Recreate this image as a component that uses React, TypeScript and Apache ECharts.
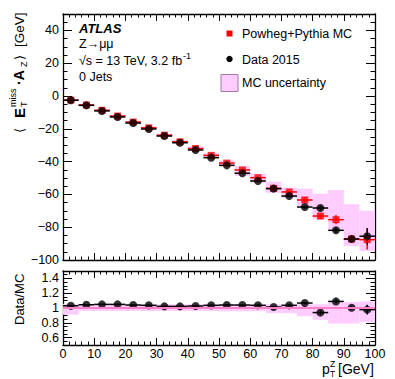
import React, { useEffect, useRef } from "react";
import * as echarts from "echarts";

// ---- data ----
const binCenters = [2.5, 7.5, 12.5, 17.5, 22.5, 27.5, 32.5, 37.5, 42.5, 47.5, 52.5, 57.5, 62.5, 67.5, 72.5, 77.5, 82.5, 87.5, 92.5, 97.5];
const binHalfWidth = 2.5;
const dataVals = [-2.6, -5.7, -9.1, -12.8, -16.5, -20.1, -24.4, -28.5, -32.9, -37.6, -42.3, -47.1, -51.8, -56.5, -61.0, -67.7, -68.3, -81.9, -87.2, -85.5];
const dataErr = [0.3, 0.3, 0.3, 0.3, 0.3, 0.3, 0.3, 0.4, 0.4, 0.4, 0.5, 0.5, 0.6, 0.7, 0.8, 1.0, 1.4, 1.5, 2.0, 5.0];
const mcVals = [-2.5, -5.5, -8.7, -12.2, -15.9, -19.4, -23.9, -27.9, -32.0, -36.2, -40.9, -45.1, -49.8, -56.3, -58.5, -63.4, -73.2, -75.4, -87.2, -87.6];
const mcErr = [0.2, 0.2, 0.2, 0.2, 0.2, 0.2, 0.3, 0.3, 0.3, 0.4, 0.4, 0.5, 0.6, 0.7, 0.9, 1.2, 1.6, 2.8, 2.0, 6.0];
const bandLo = [-2.7, -5.8, -9.1, -12.7, -16.5, -20.2, -24.9, -29.0, -33.3, -37.7, -42.5, -48.8, -52.9, -59.0, -62.0, -67.0, -75.2, -81.3, -91.5, -94.5];
const bandHi = [-2.3, -5.2, -8.3, -11.7, -15.3, -18.6, -22.9, -26.8, -30.7, -34.8, -39.3, -42.7, -47.4, -52.3, -55.9, -56.5, -59.6, -57.3, -66.0, -70.0];
const ratioVals = [1.03, 1.044, 1.049, 1.049, 1.04, 1.036, 1.022, 1.022, 1.027, 1.036, 1.04, 1.04, 1.036, 1.013, 1.036, 1.067, 0.938, 1.089, 1.004, 0.978];
const ratioErr = [0.008, 0.008, 0.008, 0.008, 0.008, 0.008, 0.008, 0.008, 0.008, 0.008, 0.01, 0.01, 0.01, 0.012, 0.014, 0.016, 0.025, 0.025, 0.025, 0.065];
const ratioBandLo = [0.91, 0.96, 0.96, 0.96, 0.96, 0.96, 0.96, 0.96, 0.96, 0.96, 0.955, 0.955, 0.955, 0.93, 0.93, 0.89, 0.84, 0.79, 0.79, 0.81];
const ratioBandHi = [1.057, 1.05, 1.05, 1.05, 1.05, 1.05, 1.05, 1.05, 1.05, 1.05, 1.05, 1.05, 1.05, 1.05, 1.05, 1.05, 1.05, 1.08, 1.08, 1.09];
const ratioRefLine = [[0, 1], [100, 1]];

const xRange = [0, 100];
const xTicks = [0, 10, 20, 30, 40, 50, 60, 70, 80, 90, 100];
const yRangeMain = [-100, 50];
const yTicksMain = [-100, -80, -60, -40, -20, 0, 20, 40];
const yRangeRatio = [0.5, 1.5];
const yTicksRatio = [0.6, 0.8, 1, 1.2, 1.4];

const FONT = '"Liberation Sans", Arial, Helvetica, sans-serif';

function minorValues(min: number, max: number, step: number, majors: number[]) {
  const out: number[] = [];
  const n = Math.round((max - min) / step);
  for (let i = 0; i <= n; i++) {
    const v = +(min + i * step).toFixed(6);
    if (!majors.some((m) => Math.abs(m - v) < 1e-6)) out.push(v);
  }
  return out;
}

function axisPair(
  gridIndex: number,
  position: string,
  range: number[],
  majors: number[],
  minors: number[],
  majorLen: number,
  minorLen: number,
  label: any
) {
  const common = {
    type: "value",
    gridIndex,
    position,
    min: range[0],
    max: range[1],
    splitLine: { show: false },
  };
  return [
    {
      ...common,
      axisLine: { show: true, onZero: false, lineStyle: { color: "#000", width: 1.3 } },
      axisTick: { show: true, inside: true, length: majorLen, customValues: majors, lineStyle: { color: "#000", width: 1 } },
      axisLabel: label
        ? { show: true, customValues: majors, color: "#000", fontSize: 12.5, fontFamily: FONT, ...label }
        : { show: false },
    },
    {
      ...common,
      axisLine: { show: false, onZero: false },
      axisTick: { show: true, inside: true, length: minorLen, customValues: minors, lineStyle: { color: "#000", width: 1 } },
      axisLabel: { show: false },
    },
  ];
}

function errRender(color: string, lw: number) {
  return (params: any, api: any) => {
    const x = api.value(0);
    const y = api.value(1);
    const e = api.value(2);
    const l = api.coord([x - binHalfWidth, y]);
    const r = api.coord([x + binHalfWidth, y]);
    const t = api.coord([x, y + e]);
    const b = api.coord([x, y - e]);
    return {
      type: "group",
      children: [
        { type: "line", shape: { x1: l[0], y1: l[1], x2: r[0], y2: r[1] }, style: { stroke: color, lineWidth: lw } },
        { type: "line", shape: { x1: t[0], y1: t[1], x2: b[0], y2: b[1] }, style: { stroke: color, lineWidth: lw } },
      ],
    };
  };
}

function bandRender(fill: string) {
  return (params: any, api: any) => {
    const x = api.value(0);
    const lo = api.value(1);
    const hi = api.value(2);
    const p1 = api.coord([x - binHalfWidth, hi]);
    const p2 = api.coord([x + binHalfWidth, lo]);
    return {
      type: "rect",
      shape: { x: p1[0], y: p1[1], width: p2[0] - p1[0], height: p2[1] - p1[1] },
      style: { fill },
    };
  };
}

const minusFmt = (v: number) => (v < 0 ? "\u2212" + Math.abs(v) : String(v));

export default function App() {
  const ref = useRef<HTMLDivElement>(null);
  useEffect(() => {
    if (!ref.current) return;
    const chart = echarts.init(ref.current, null, { renderer: "svg" });

    const xMinor = minorValues(xRange[0], xRange[1], 2, xTicks);
    const yMinorMain = minorValues(yRangeMain[0], yRangeMain[1], 5, yTicksMain);
    const yMinorRatio = minorValues(yRangeRatio[0], yRangeRatio[1], 0.05, yTicksRatio);

    const xAxes = [
      ...axisPair(0, "bottom", xRange, xTicks, xMinor, 7, 3.5, null), // 0,1
      ...axisPair(0, "top", xRange, xTicks, xMinor, 7, 3.5, null), // 2,3
      ...axisPair(1, "bottom", xRange, xTicks, xMinor, 7, 3.5, { margin: 2 }), // 4,5
      ...axisPair(1, "top", xRange, xTicks, xMinor, 7, 3.5, null), // 6,7
    ];
    const yAxes = [
      ...axisPair(0, "left", yRangeMain, yTicksMain, yMinorMain, 9, 4.5, { margin: 4, formatter: minusFmt }), // 0,1
      ...axisPair(0, "right", yRangeMain, yTicksMain, yMinorMain, 9, 4.5, null), // 2,3
      ...axisPair(1, "left", yRangeRatio, yTicksRatio, yMinorRatio, 9, 4.5, { margin: 4, formatter: (v: number) => String(v) }), // 4,5
      ...axisPair(1, "right", yRangeRatio, yTicksRatio, yMinorRatio, 9, 4.5, null), // 6,7
    ];

    const bandData = binCenters.map((x, i) => [x, bandLo[i], bandHi[i]]);
    const mcErrData = binCenters.map((x, i) => [x, mcVals[i], mcErr[i]]);
    const mcPts = binCenters.map((x, i) => [x, mcVals[i]]);
    const dataErrData = binCenters.map((x, i) => [x, dataVals[i], dataErr[i]]);
    const dataPts = binCenters.map((x, i) => [x, dataVals[i]]);
    const rBandData = binCenters.map((x, i) => [x, ratioBandLo[i], ratioBandHi[i]]);
    const rErrData = binCenters.map((x, i) => [x, ratioVals[i], ratioErr[i]]);
    const rPts = binCenters.map((x, i) => [x, ratioVals[i]]);

    const txt = (x: number, y: number, text: string, extra: any = {}) => ({
      type: "text",
      x,
      y,
      style: { text, fill: "#000", font: `12.5px ${FONT}`, textVerticalAlign: "middle", ...extra },
    });

    chart.setOption({
      animation: false,
      backgroundColor: "#fff",
      grid: [
        { left: 63, top: 14, width: 312, height: 246 },
        { left: 63, top: 271, width: 312, height: 74 },
      ],
      xAxis: xAxes,
      yAxis: yAxes,
      series: [
        { type: "custom", xAxisIndex: 0, yAxisIndex: 0, data: bandData, renderItem: bandRender("#ffccff"), silent: true },
        { type: "custom", xAxisIndex: 0, yAxisIndex: 0, data: mcErrData, renderItem: errRender("#ff0000", 1.5) },
        { type: "scatter", xAxisIndex: 0, yAxisIndex: 0, data: mcPts, symbol: "rect", symbolSize: 7, itemStyle: { color: "#ff0000" } },
        { type: "custom", xAxisIndex: 0, yAxisIndex: 0, data: dataErrData, renderItem: errRender("#000", 1.5) },
        { type: "scatter", xAxisIndex: 0, yAxisIndex: 0, data: dataPts, symbol: "circle", symbolSize: 8, itemStyle: { color: "#000" } },

        { type: "custom", xAxisIndex: 4, yAxisIndex: 4, data: rBandData, renderItem: bandRender("#ffccff"), silent: true },
        { type: "line", xAxisIndex: 4, yAxisIndex: 4, data: ratioRefLine, symbol: "none", lineStyle: { color: "#ff80c8", width: 2 } },
        { type: "custom", xAxisIndex: 4, yAxisIndex: 4, data: rErrData, renderItem: errRender("#000", 1.5) },
        { type: "scatter", xAxisIndex: 4, yAxisIndex: 4, data: rPts, symbol: "circle", symbolSize: 8, itemStyle: { color: "#000" } },
      ],
      graphic: [
        // ATLAS label block
        txt(79, 28.5, "ATLAS", { font: `italic bold 13px ${FONT}` }),
        txt(79, 44, "Z\u2192\u03bc\u03bc"),
        txt(79, 61, "\u221as = 13 TeV, 3.2 fb"),
        txt(183, 56, "-1", { font: `9px ${FONT}` }),
        txt(79, 76.5, "0 Jets"),
        // legend
        { type: "rect", shape: { x: 226.5, y: 30.5, width: 6, height: 6 }, style: { fill: "#ff0000" } },
        txt(242, 34, "Powheg+Pythia MC"),
        { type: "circle", shape: { cx: 229.5, cy: 59, r: 3.2 }, style: { fill: "#000" } },
        txt(242, 59.5, "Data 2015"),
        { type: "rect", shape: { x: 221, y: 74.5, width: 17, height: 17 }, style: { fill: "#ffccff", stroke: "#a078a0", lineWidth: 1 } },
        txt(242, 83, "MC uncertainty"),
        // y title upper (rotated)
        {
          type: "group",
          x: 19,
          y: 133,
          rotation: Math.PI / 2,
          children: [
            txt(0, 0, "\u27e8", { font: `13px ${FONT}` }),
            txt(15, 0, "E", { font: `bold 15px ${FONT}` }),
            txt(26, -6, "miss", { font: `9px ${FONT}` }),
            txt(26, 5, "T", { font: `9px ${FONT}` }),
            txt(48, 0, "\u00b7A", { font: `bold 14px ${FONT}` }),
            txt(66, 5, "Z", { font: `9px ${FONT}` }),
            txt(73, 0, "\u27e9", { font: `13px ${FONT}` }),
            txt(86, 0, "[GeV]", { font: `13.5px ${FONT}` }),
          ],
        },
        // ratio y title
        {
          type: "group",
          x: 19,
          y: 325,
          rotation: Math.PI / 2,
          children: [txt(0, 0, "Data/MC", { font: `13px ${FONT}` })],
        },
        // x title
        txt(322, 368.5, "p", { font: `14px ${FONT}` }),
        txt(330, 364, "Z", { font: `8.5px ${FONT}` }),
        txt(330, 373.5, "T", { font: `8.5px ${FONT}` }),
        txt(338, 368.5, "[GeV]", { font: `14px ${FONT}` }),
      ],
    });
    return () => chart.dispose();
  }, []);
  return <div ref={ref} style={{ position: "absolute", left: 0, top: 0, width: 395, height: 379 }} />;
}
